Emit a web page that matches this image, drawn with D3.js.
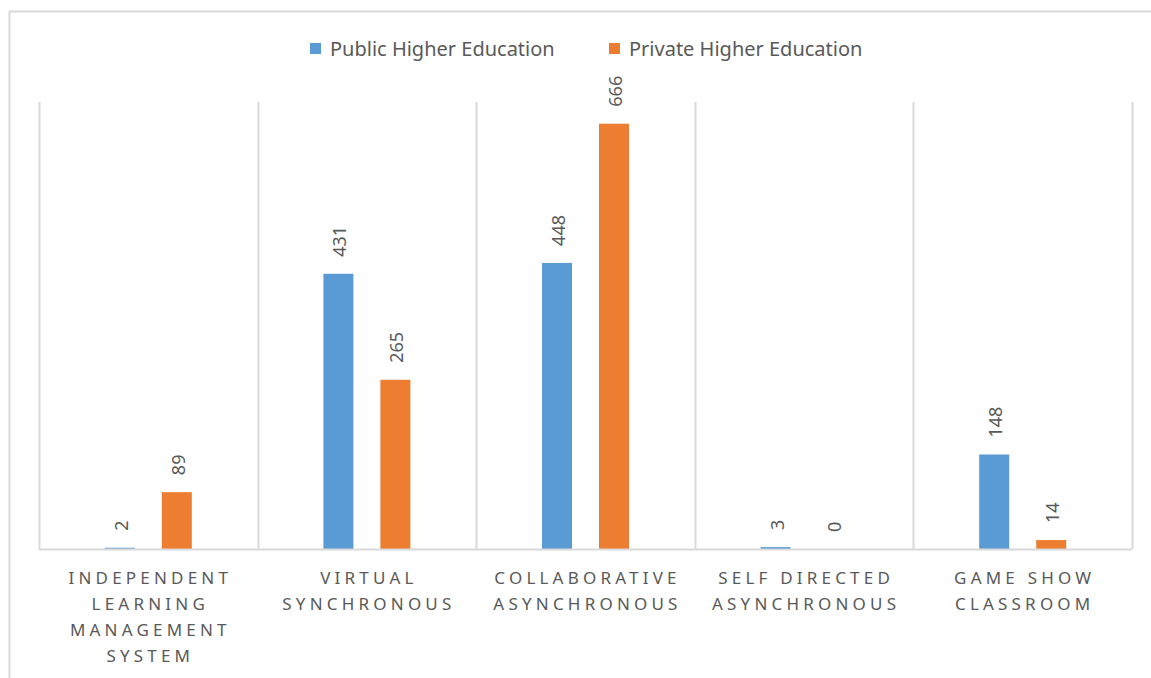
<!DOCTYPE html>
<html>
<head>
<script src="https://d3js.org/d3.v7.min.js"></script>
<style>
  body { margin: 0; background: #fff; }
  text { font-family: "Noto Sans", "Open Sans", sans-serif; fill: #595959; }
  .cat { font-size: 17px; letter-spacing: 4.2px; }
  .val { font-size: 18px; }
  .leg { font-size: 20px; }
</style>
</head>
<body>
<svg width="1151" height="678"></svg>
<script>
var categories = [
  ["INDEPENDENT", "LEARNING", "MANAGEMENT", "SYSTEM"],
  ["VIRTUAL", "SYNCHRONOUS"],
  ["COLLABORATIVE", "ASYNCHRONOUS"],
  ["SELF DIRECTED", "ASYNCHRONOUS"],
  ["GAME SHOW", "CLASSROOM"]
];
var seriesNames = ["Public Higher Education", "Private Higher Education"];
var publicValues = [2, 431, 448, 3, 148];
var privateValues = [89, 265, 666, 0, 14];
var colors = ["#5B9BD5", "#ED7D31"];

var svg = d3.select("svg");
var margin = {left: 39, right: 19, top: 102, bottom: 129};
var width = 1151, height = 678;

// outer chart frame (cropped at right and bottom)
svg.append("path")
  .attr("d", "M9.5,678 V11.5 H1151")
  .attr("fill", "none").attr("stroke", "#D9D9D9").attr("stroke-width", 2);

var x = d3.scaleBand()
  .domain(d3.range(categories.length))
  .range([margin.left, width - margin.right]);

var y = d3.scaleLinear().domain([0, 700]).range([height - margin.bottom, margin.top]);

// two bars of 30px with a 27px gap, centred in each category
var sub = d3.scaleBand().domain([0, 1])
  .range([x.bandwidth() / 2 - 43.5, x.bandwidth() / 2 + 43.5])
  .paddingInner(27 / 57).paddingOuter(0);

// vertical separators between categories
var seps = d3.range(categories.length + 1).map(function(i) {
  return i < categories.length ? x(i) : x(i - 1) + x.bandwidth();
});
svg.selectAll(".sep").data(seps).enter().append("line")
  .attr("x1", function(d) { return Math.round(d) + 0.5; })
  .attr("x2", function(d) { return Math.round(d) + 0.5; })
  .attr("y1", y(700)).attr("y2", y(0))
  .attr("stroke", "#D9D9D9").attr("stroke-width", 2);

var flat = [];
categories.forEach(function(c, i) {
  flat.push({s: 0, v: publicValues[i], c: i});
  flat.push({s: 1, v: privateValues[i], c: i});
});

svg.selectAll(".bar").data(flat).enter().append("rect")
  .attr("x", function(d) { return x(d.c) + sub(d.s); })
  .attr("width", sub.bandwidth())
  .attr("y", function(d) { return y(d.v); })
  .attr("height", function(d) { return y(0) - y(d.v); })
  .attr("fill", function(d) { return colors[d.s]; });

// baseline
svg.append("line")
  .attr("x1", x(0)).attr("x2", width - margin.right)
  .attr("y1", y(0) + 0.5).attr("y2", y(0) + 0.5)
  .attr("stroke", "#D9D9D9").attr("stroke-width", 2);

// value labels, rotated
svg.selectAll(".val").data(flat).enter().append("text")
  .attr("class", "val")
  .attr("transform", function(d) {
    var cx = x(d.c) + sub(d.s) + sub.bandwidth() / 2;
    return "translate(" + (cx + 8) + "," + (y(d.v) - 17) + ") rotate(-90)";
  })
  .attr("text-anchor", "start")
  .text(function(d) { return d.v; });

// category labels
var cat = svg.selectAll(".cat").data(categories).enter().append("text")
  .attr("class", "cat")
  .attr("text-anchor", "middle")
  .attr("transform", function(d, i) { return "translate(" + (x(i) + x.bandwidth() / 2 + 2) + ",584)"; });
cat.selectAll("tspan").data(function(d) { return d; }).enter().append("tspan")
  .attr("x", 0)
  .attr("dy", function(d, i) { return i === 0 ? 0 : 26; })
  .text(function(d) { return d; });

// legend
var legX = [310, 609];
var leg = svg.selectAll(".legitem").data(seriesNames).enter().append("g")
  .attr("transform", function(d, i) { return "translate(" + legX[i] + ",43)"; });
leg.append("rect").attr("width", 11).attr("height", 11).attr("fill", function(d, i) { return colors[i]; });
leg.append("text").attr("class", "leg").attr("x", 20).attr("y", 13).text(function(d) { return d; });
</script>
</body>
</html>
